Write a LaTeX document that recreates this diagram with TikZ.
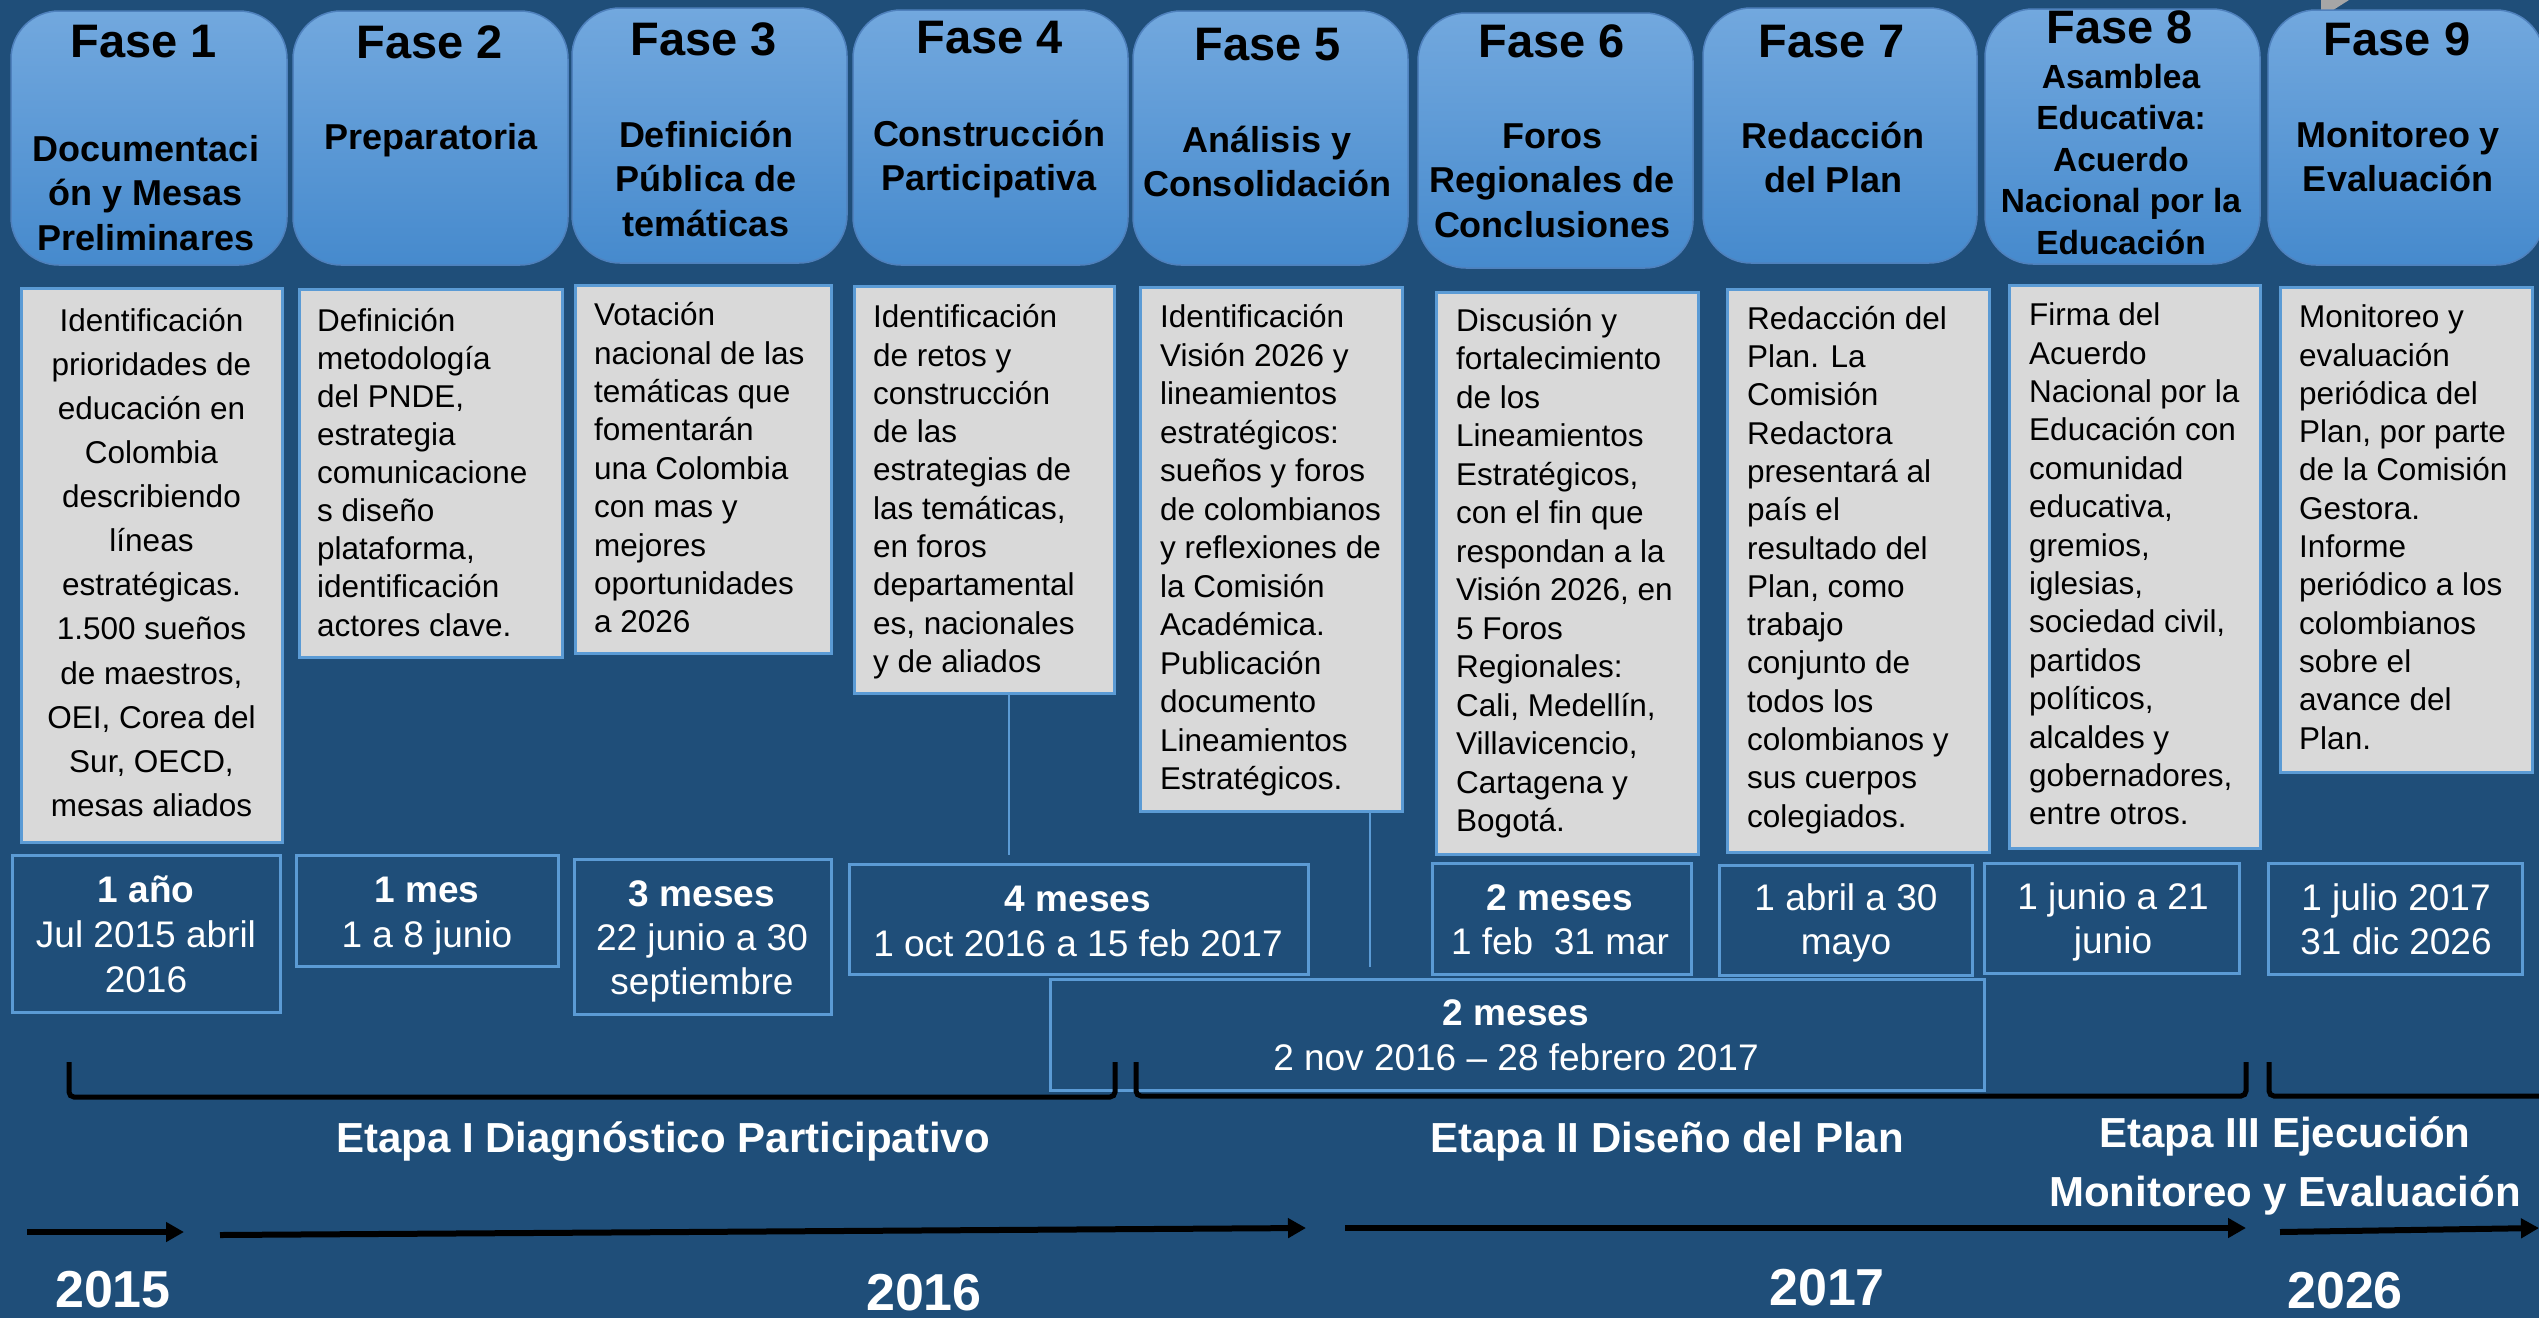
\documentclass[tikz,border=0pt]{standalone}
\usepackage{fontspec}
\setmainfont{Liberation Sans}
\usetikzlibrary{arrows.meta}
\definecolor{bg}{RGB}{31,78,121}
\definecolor{ptop}{RGB}{114,168,222}
\definecolor{pbot}{RGB}{70,138,205}
\definecolor{pline}{RGB}{79,129,189}
\definecolor{lblue}{RGB}{91,155,213}
\definecolor{gfill}{RGB}{217,217,217}
\definecolor{gshape}{RGB}{166,166,166}
\newcommand{\myst}[1]{\rule{0pt}{#1}}
\begin{document}
\begin{tikzpicture}[x=1pt,y=-1pt,
  phase/.style={draw=pline, line width=1.5pt, rounded corners=48pt, top color=ptop, bottom color=pbot, anchor=north west, inner sep=0pt, outer sep=0pt},
  gbox/.style={draw=lblue, line width=3pt, fill=gfill, anchor=north west, inner sep=0pt, outer sep=0pt},
  dbox/.style={draw=lblue, line width=3pt, anchor=north west, inner sep=0pt, outer sep=0pt},
  ftitle/.style={font=\bfseries\fontsize{47}{50}\selectfont, anchor=base, inner sep=0pt},
  fsub/.style={font=\bfseries\fontsize{36}{44.5}\selectfont, align=center, anchor=north, inner sep=0pt},
  gtext/.style={font=\fontsize{31.5}{38.4}\selectfont, align=left, anchor=north west, inner sep=0pt},
  dtext/.style={text=white, font=\fontsize{37}{45}\selectfont, align=center, anchor=north, inner sep=0pt},
  stage/.style={text=white, font=\bfseries\fontsize{42}{59}\selectfont, align=center, inner sep=0pt},
  year/.style={text=white, font=\bfseries\fontsize{52}{56}\selectfont, anchor=base, inner sep=0pt},
  conn/.style={draw=lblue, line width=1.5pt},
  brk/.style={draw=black, line width=5pt, rounded corners=5pt},
  tarrow/.style={draw=black, line width=6pt, -{Triangle[length=18pt,width=19pt]}}
]
\path[use as bounding box, fill=bg] (0,0) rectangle (2539,1318);
\fill[gshape] (2321,0) -- (2349,0) -- (2330,12) -- (2321,12) -- cycle;

% phase boxes
\node[phase, minimum width=276pt, minimum height=254pt] (p1) at (11,11) {};
\node[phase, minimum width=275pt, minimum height=254pt] (p2) at (293,11) {};
\node[phase, minimum width=275pt, minimum height=255pt] (p3) at (572,8) {};
\node[phase, minimum width=275pt, minimum height=255pt] (p4) at (853,10) {};
\node[phase, minimum width=275pt, minimum height=254pt] (p5) at (1133,11) {};
\node[phase, minimum width=275pt, minimum height=255pt] (p6) at (1418,13) {};
\node[phase, minimum width=274pt, minimum height=255pt] (p7) at (1703,8) {};
\node[phase, minimum width=275pt, minimum height=255pt] (p8) at (1985,9) {};
\node[phase, minimum width=276pt, minimum height=255pt] (p9) at (2268,10) {};

\node[ftitle] (t1) at (144,57) {Fase 1};
\node[ftitle] (t2) at (430,58) {Fase 2};
\node[ftitle] (t3) at (704,55) {Fase 3};
\node[ftitle] (t4) at (990,53) {Fase 4};
\node[ftitle] (t5) at (1268,60) {Fase 5};
\node[ftitle] (t6) at (1552,57) {Fase 6};
\node[ftitle] (t7) at (1832,57) {Fase 7};
\node[ftitle] (t8) at (2120,43) {Fase 8};
\node[ftitle] (t9) at (2397,55) {Fase 9};

\node[fsub] (s1) at (146,125) {\myst{36pt}Documentaci\\ón y Mesas\\Preliminares};
\node[fsub] (s2) at (431,113) {\myst{36pt}Preparatoria};
\node[fsub] (s3) at (706,111) {\myst{36pt}Definición\\Pública de\\temáticas};
\node[fsub] (s4) at (989,110) {\myst{36pt}Construcción\\Participativa};
\node[fsub] (s5) at (1267,116) {\myst{36pt}Análisis y\\Consolidación};
\node[fsub] (s6) at (1552,112) {\myst{36pt}Foros\\Regionales de\\Conclusiones};
\node[fsub] (s7) at (1833,112) {\myst{36pt}Redacción\\del Plan};
\node[fsub, font=\bfseries\fontsize{33.5}{41.5}\selectfont] (s8) at (2121,54) {\myst{34pt}Asamblea\\Educativa:\\Acuerdo\\Nacional por la\\Educación};
\node[fsub] (s9) at (2398,111) {\myst{36pt}Monitoreo y\\Evaluación};

% grey description boxes
\node[gbox, minimum width=261pt, minimum height=554pt] (g1) at (21,288) {};
\node[gbox, minimum width=263pt, minimum height=368pt] (g2) at (299,289) {};
\node[gbox, minimum width=256pt, minimum height=368pt] (g3) at (575,285) {};
\node[gbox, minimum width=260pt, minimum height=407pt] (g4) at (854,286) {};
\node[gbox, minimum width=262pt, minimum height=524pt] (g5) at (1140,287) {};
\node[gbox, minimum width=262pt, minimum height=562pt] (g6) at (1436,292) {};
\node[gbox, minimum width=262pt, minimum height=563pt] (g7) at (1727,289) {};
\node[gbox, minimum width=251pt, minimum height=563pt] (g8) at (2009,285) {};
\node[gbox, minimum width=252pt, minimum height=485pt] (g9) at (2280,287) {};

\node[gtext, align=center, anchor=north, font=\fontsize{31.5}{44.1}\selectfont] (x1) at (151.5,299.5) {\myst{31.5pt}Identificación\\prioridades de\\educación en\\Colombia\\describiendo\\líneas\\estratégicas.\\1.500 sueños\\de maestros,\\OEI, Corea del\\Sur, OECD,\\mesas aliados};
\node[gtext, font=\fontsize{31.5}{38.1}\selectfont] (x2) at (317,299.5) {\myst{31.5pt}Definición\\metodología\\del PNDE,\\estrategia\\comunicacione\\s diseño\\plataforma,\\identificación\\actores clave.};
\node[gtext] (x3) at (594,294) {\myst{31.5pt}Votación\\nacional de las\\temáticas que\\fomentarán\\una Colombia\\con mas y\\mejores\\oportunidades\\a 2026};
\node[gtext, font=\fontsize{31.5}{38.3}\selectfont] (x4) at (873,296) {\myst{31.5pt}Identificación\\de retos y\\construcción\\de las\\estrategias de\\las temáticas,\\en foros\\departamental\\es, nacionales\\y de aliados};
\node[gtext, font=\fontsize{31.5}{38.5}\selectfont] (x5) at (1160,296) {\myst{31.5pt}Identificación\\Visión 2026 y\\lineamientos\\estratégicos:\\sueños y foros\\de colombianos\\y reflexiones de\\la Comisión\\Académica.\\Publicación\\documento\\Lineamientos\\Estratégicos.};
\node[gtext, font=\fontsize{31.5}{38.5}\selectfont] (x6) at (1456,299.5) {\myst{31.5pt}Discusión y\\fortalecimiento\\de los\\Lineamientos\\Estratégicos,\\con el fin que\\respondan a la\\Visión 2026, en\\5 Foros\\Regionales:\\Cali, Medellín,\\Villavicencio,\\Cartagena y\\Bogotá.};
\node[gtext, font=\fontsize{31.5}{38.3}\selectfont] (x7) at (1747,297.5) {\myst{31.5pt}Redacción del\\Plan. La\\Comisión\\Redactora\\presentará al\\país el\\resultado del\\Plan, como\\trabajo\\conjunto de\\todos los\\colombianos y\\sus cuerpos\\colegiados.};
\node[gtext] (x8) at (2029,294) {\myst{31.5pt}Firma del\\Acuerdo\\Nacional por la\\Educación con\\comunidad\\educativa,\\gremios,\\iglesias,\\sociedad civil,\\partidos\\políticos,\\alcaldes y\\gobernadores,\\entre otros.};
\node[gtext, font=\fontsize{31.5}{38.3}\selectfont] (x9) at (2299,296) {\myst{31.5pt}Monitoreo y\\evaluación\\periódica del\\Plan, por parte\\de la Comisión\\Gestora.\\Informe\\periódico a los\\colombianos\\sobre el\\avance del\\Plan.};

% duration boxes
\node[dbox, minimum width=268pt, minimum height=157pt] (d1) at (12,855) {};
\node[dbox, minimum width=262pt, minimum height=111pt] (d2) at (296,855) {};
\node[dbox, minimum width=257pt, minimum height=155pt] (d3) at (574,859) {};
\node[dbox, minimum width=459pt, minimum height=110pt] (d4) at (849,864) {};
\node[dbox, minimum width=934pt, minimum height=111pt] (d5) at (1050,979) {};
\node[dbox, minimum width=259pt, minimum height=111pt] (d6) at (1432,863) {};
\node[dbox, minimum width=253pt, minimum height=110pt] (d7) at (1719,865) {};
\node[dbox, minimum width=255pt, minimum height=110pt] (d8) at (1984,863) {};
\node[dbox, minimum width=254pt, minimum height=111pt] (d9) at (2268,863) {};

\node[dtext] (e1) at (146,865) {\myst{37pt}\textbf{1 año}\\Jul 2015 abril\\2016};
\node[dtext] (e2) at (427,865) {\myst{37pt}\textbf{1 mes}\\1 a 8 junio};
\node[dtext, font=\fontsize{37}{44}\selectfont] (e3) at (702,869) {\myst{37pt}\textbf{3 meses}\\22 junio a 30\\septiembre};
\node[dtext] (e4) at (1078,874) {\myst{37pt}\textbf{4 meses}\\1 oct 2016 a 15 feb 2017};
\node[dtext] (e5) at (1516,988) {\myst{37pt}\textbf{2 meses}\\2 nov 2016 -- 28 febrero 2017};
\node[dtext, font=\fontsize{37}{44}\selectfont] (e6) at (1560,873) {\myst{37pt}\textbf{2 meses}\\1 feb~~31 mar};
\node[dtext, font=\fontsize{37}{44}\selectfont] (e7) at (1846,873) {\myst{37pt}1 abril a 30\\mayo};
\node[dtext, font=\fontsize{37}{44}\selectfont] (e8) at (2113,872) {\myst{37pt}1 junio a 21\\junio};
\node[dtext, font=\fontsize{37}{44}\selectfont] (e9) at (2396,873) {\myst{37pt}1 julio 2017\\31 dic 2026};

% thin connectors
\coordinate (c4) at (1009,855);
\coordinate (c5) at (1370,967);
\draw[conn] (g4.south -| c4) -- (c4);
\draw[conn] (g5.south -| c5) -- (c5);

% brackets
\draw[brk] (69,1062) -- (69,1097) -- (1115,1097) -- (1115,1062);
\draw[brk] (1136,1062) -- (1136,1096) -- (2246,1096) -- (2246,1062);
\draw[brk] (2269,1062) -- (2269,1096) -- (2545,1096);

% stage labels
\node[stage, anchor=base] (st1) at (663,1152) {Etapa I Diagnóstico Participativo};
\node[stage, anchor=base] (st2) at (1667,1152) {Etapa II Diseño del Plan};
\node[stage, anchor=north] (st3) at (2285,1105) {\myst{42pt}Etapa III Ejecución\\Monitoreo y Evaluación};

% time arrows
\coordinate (a1s) at (27,1232); \coordinate (a1e) at (184,1232);
\coordinate (a2s) at (220,1235); \coordinate (a2e) at (1306,1228);
\coordinate (a3s) at (1345,1228); \coordinate (a3e) at (2246,1228);
\coordinate (a4s) at (2280,1232); \coordinate (a4e) at (2539,1228);
\draw[tarrow] (a1s) -- (a1e);
\draw[tarrow] (a2s) -- (a2e);
\draw[tarrow] (a3s) -- (a3e);
\draw[tarrow] (a4s) -- (a4e);

% years
\node[year] (y1) at (113,1307) {2015};
\node[year] (y2) at (924,1310) {2016};
\node[year] (y3) at (1827,1305) {2017};
\node[year] (y4) at (2345,1308) {2026};
\end{tikzpicture}
\end{document}
